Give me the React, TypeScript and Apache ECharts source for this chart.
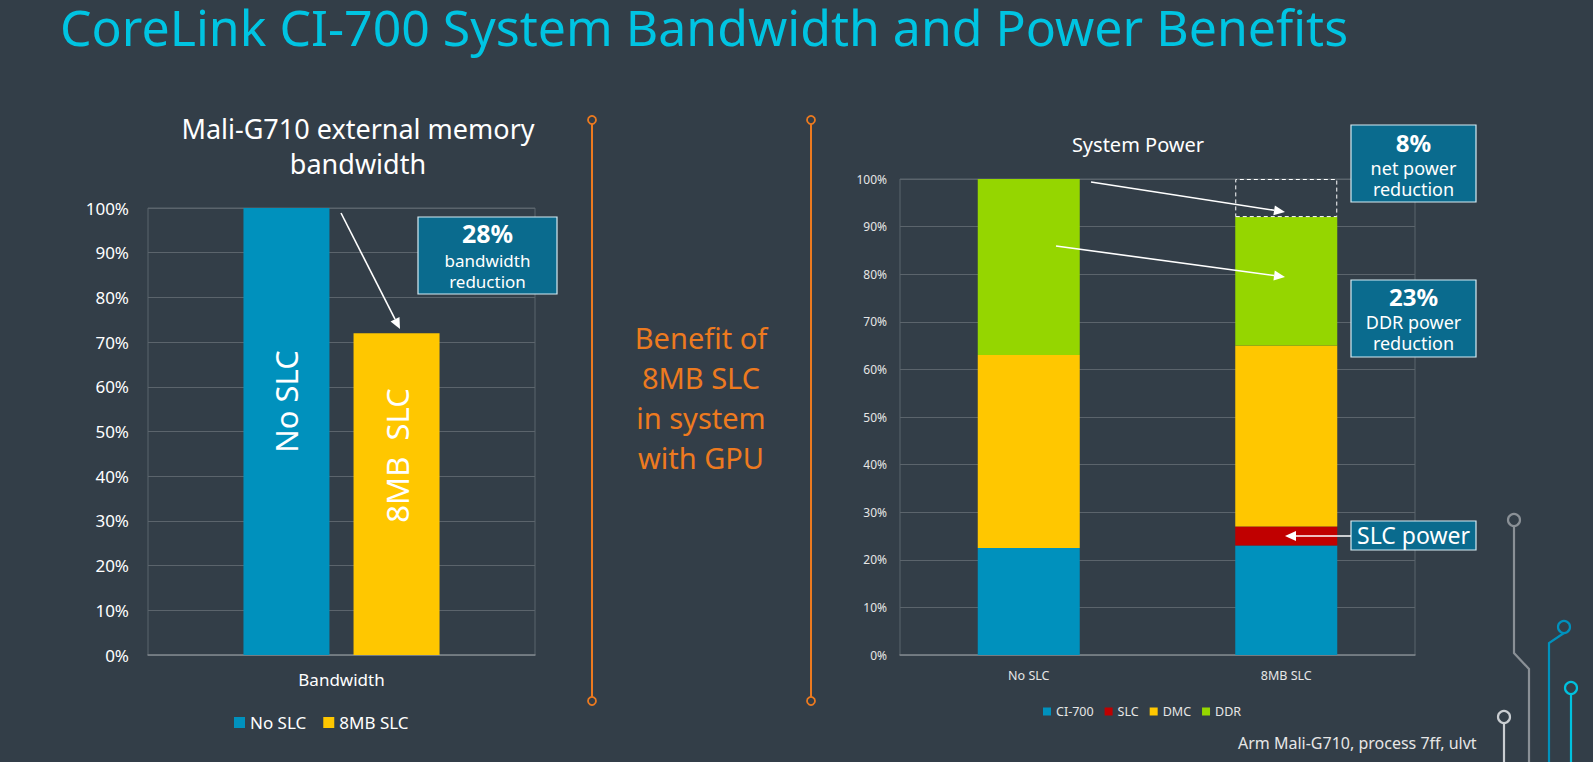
import React, { useEffect, useRef } from "react";
import * as echarts from "echarts";

// ---- data ----
const bwCategories = ["Bandwidth"];
const bwNoSlc = [100];
const bw8mbSlc = [72];
const bwTicks = [0, 100, 10];

const pwCategories = ["No SLC", "8MB SLC"];
const pwCi700 = [22.5, 23];
const pwSlc = [0, 4];
const pwDmc = [40.5, 38];
const pwDdr = [37, 27];
const pwNetReduction = ["-", 8];

const FONT = "Noto Sans";
const BG = "#333e48";
const BLUE = "#0091bd";
const YELLOW = "#ffc700";
const GREEN = "#95d600";
const RED = "#c00000";
const ORANGE = "#ed7a1f";
const CALLOUT = "#0a6b8e";
const CALLOUT_BORDER = "#d6ecf3";
const GRIDLINE = "#5b646c";
const TOP_Z = 50;

function arrow(x1: number, y1: number, x2: number, y2: number, color = "#ffffff") {
  const ang = Math.atan2(y2 - y1, x2 - x1);
  const len = 11;
  const w = 5;
  const bx = x2 - len * Math.cos(ang);
  const by = y2 - len * Math.sin(ang);
  const px = -Math.sin(ang) * w;
  const py = Math.cos(ang) * w;
  return [
    { type: "line", silent: true, z: TOP_Z, shape: { x1, y1, x2: bx, y2: by }, style: { stroke: color, lineWidth: 1.6 } },
    {
      type: "polygon",
      silent: true,
      z: TOP_Z,
      shape: { points: [[x2, y2], [bx + px, by + py], [bx - px, by - py]] },
      style: { fill: color },
    },
  ];
}

function callout(x: number, y: number, w: number, h: number, lines: { t: string; s: number; b?: boolean; y: number }[]) {
  const els: any[] = [
    {
      type: "rect",
      silent: true,
      z: TOP_Z,
      shape: { x, y, width: w, height: h },
      style: { fill: CALLOUT, stroke: CALLOUT_BORDER, lineWidth: 1.2 },
    },
  ];
  lines.forEach((l) => {
    els.push({
      type: "text",
      silent: true,
      z: TOP_Z + 1,
      x: x + w / 2,
      y: l.y,
      style: {
        text: l.t,
        fill: "#ffffff",
        font: `${l.b ? "bold " : ""}${l.s}px '${FONT}'`,
        align: "center",
        verticalAlign: "middle",
        lineHeight: Math.round(l.s * 1.05),
      },
    });
  });
  return els;
}

function orangeBar(x: number, y1: number, y2: number) {
  return [
    { type: "line", silent: true, shape: { x1: x, y1: y1 + 4, x2: x, y2: y2 - 4 }, style: { stroke: ORANGE, lineWidth: 2 } },
    { type: "circle", silent: true, shape: { cx: x, cy: y1, r: 4 }, style: { fill: BG, stroke: ORANGE, lineWidth: 1.8 } },
    { type: "circle", silent: true, shape: { cx: x, cy: y2, r: 4 }, style: { fill: BG, stroke: ORANGE, lineWidth: 1.8 } },
  ];
}

function circuit(points: number[][], color: string) {
  const [cx, cy] = points[0];
  return [
    { type: "polyline", silent: true, shape: { points: [[cx, cy + 6], ...points.slice(1)] }, style: { stroke: color, lineWidth: 2.2, fill: null } },
    { type: "circle", silent: true, shape: { cx, cy, r: 6 }, style: { fill: BG, stroke: color, lineWidth: 2.2 } },
  ];
}

export default function App() {
  const ref = useRef<HTMLDivElement>(null);
  useEffect(() => {
    if (!ref.current) return;
    const chart = echarts.init(ref.current, null, { renderer: "svg" });

    const graphic: any[] = [
      {
        type: "text",
        silent: true,
        x: 60,
        y: 27,
        style: {
          text: "CoreLink CI-700 System Bandwidth and Power Benefits",
          fill: "#00c4e2",
          font: `50px '${FONT}'`,
          verticalAlign: "middle",
          lineHeight: 44,
        },
      },
      {
        type: "text",
        silent: true,
        x: 358,
        y: 146,
        style: {
          text: "Mali-G710 external memory\nbandwidth",
          fill: "#ffffff",
          font: `27px '${FONT}'`,
          align: "center",
          verticalAlign: "middle",
          lineHeight: 35,
        },
      },
      {
        type: "text",
        silent: true,
        x: 1138,
        y: 144,
        style: { text: "System Power", fill: "#ffffff", font: `20px '${FONT}'`, align: "center", verticalAlign: "middle" },
      },
      {
        type: "text",
        silent: true,
        x: 701,
        y: 397,
        style: {
          text: "Benefit of\n8MB SLC\nin system\nwith GPU",
          fill: ORANGE,
          font: `29px '${FONT}'`,
          align: "center",
          verticalAlign: "middle",
          lineHeight: 40,
        },
      },
      ...orangeBar(592, 120, 701),
      ...orangeBar(811, 120, 701),
      ...callout(418, 217, 139, 77, [
        { t: "28%", s: 25, b: true, y: 233 },
        { t: "bandwidth", s: 17, y: 260 },
        { t: "reduction", s: 17, y: 281 },
      ]),
      ...arrow(341, 213, 400, 329),
      ...callout(1351, 125, 125, 77, [
        { t: "8%", s: 24, b: true, y: 142 },
        { t: "net power", s: 18, y: 168 },
        { t: "reduction", s: 18, y: 189 },
      ]),
      ...callout(1351, 280, 125, 77, [
        { t: "23%", s: 24, b: true, y: 296 },
        { t: "DDR power", s: 18, y: 322 },
        { t: "reduction", s: 18, y: 343 },
      ]),
      ...callout(1351, 521, 125, 29, [{ t: "SLC power", s: 23, y: 535 }]),
      ...arrow(1091, 182, 1285, 212),
      ...arrow(1056, 246, 1285, 277),
      ...arrow(1351, 536, 1285, 536),
      {
        type: "text",
        silent: true,
        x: 1238,
        y: 743,
        style: { text: "Arm Mali-G710, process 7ff, ulvt", fill: "#e6e6e6", font: `16px '${FONT}'`, verticalAlign: "middle" },
      },
      ...circuit([[1514, 520], [1514, 653], [1529, 669], [1529, 770]], "#8a9096"),
      ...circuit([[1564, 627], [1549, 643], [1549, 770]], BLUE),
      ...circuit([[1571, 688], [1571, 770]], "#00c1de"),
      ...circuit([[1504, 717], [1504, 770]], "#c9cdd1"),
    ];

    const barLabel = (pos: string[], text: string) => ({
      show: true,
      formatter: text,
      rotate: 90,
      position: pos,
      align: "center",
      verticalAlign: "middle",
      color: "#ffffff",
      fontSize: 31,
      fontFamily: FONT,
    });

    const option: any = {
      backgroundColor: BG,
      animation: false,
      textStyle: { fontFamily: FONT },
      grid: [
        { left: 148, top: 208, width: 387, height: 447, show: true, borderColor: GRIDLINE, borderWidth: 1 },
        { left: 900, top: 179, width: 515, height: 476, show: true, borderColor: GRIDLINE, borderWidth: 1 },
      ],
      xAxis: [
        {
          type: "category",
          gridIndex: 0,
          data: bwCategories,
          axisTick: { show: false },
          axisLine: { lineStyle: { color: "#7d848a", width: 1.5 } },
          axisLabel: { color: "#ffffff", fontSize: 17, margin: 16 },
        },
        {
          type: "category",
          gridIndex: 1,
          data: pwCategories,
          axisTick: { show: false },
          axisLine: { lineStyle: { color: "#7d848a", width: 1.5 } },
          axisLabel: { color: "#e6e6e6", fontSize: 12.5, margin: 14 },
        },
      ],
      yAxis: [
        {
          type: "value",
          gridIndex: 0,
          min: bwTicks[0],
          max: bwTicks[1],
          interval: bwTicks[2],
          axisLine: { show: false },
          axisTick: { show: false },
          axisLabel: { formatter: "{value}%", color: "#ffffff", fontSize: 17, margin: 19 },
          splitLine: { lineStyle: { color: GRIDLINE } },
        },
        {
          type: "value",
          gridIndex: 1,
          min: bwTicks[0],
          max: bwTicks[1],
          interval: bwTicks[2],
          axisLine: { show: false },
          axisTick: { show: false },
          axisLabel: { formatter: "{value}%", color: "#e6e6e6", fontSize: 12, margin: 13 },
          splitLine: { lineStyle: { color: GRIDLINE } },
        },
      ],
      legend: [
        {
          data: ["No SLC", "8MB SLC"],
          left: 229,
          top: 709,
          icon: "rect",
          itemWidth: 11,
          itemHeight: 11,
          itemGap: 17,
          textStyle: { color: "#ffffff", fontSize: 17 },
          selectedMode: false,
        },
        {
          data: ["CI-700", "SLC", "DMC", "DDR"],
          left: 1038,
          top: 700,
          icon: "rect",
          itemWidth: 8,
          itemHeight: 8,
          itemGap: 11,
          textStyle: { color: "#e6e6e6", fontSize: 12.5 },
          selectedMode: false,
        },
      ],
      series: [
        {
          name: "No SLC",
          type: "bar",
          xAxisIndex: 0,
          yAxisIndex: 0,
          data: bwNoSlc,
          barWidth: 86,
          barGap: "28%",
          itemStyle: { color: BLUE },
          label: barLabel(["50%", "43.3%"], "No SLC"),
        },
        {
          name: "8MB SLC",
          type: "bar",
          xAxisIndex: 0,
          yAxisIndex: 0,
          data: bw8mbSlc,
          barWidth: 86,
          barGap: "28%",
          itemStyle: { color: YELLOW },
          label: barLabel(["50%", "38%"], "8MB  SLC"),
        },
        { name: "CI-700", type: "bar", stack: "p", xAxisIndex: 1, yAxisIndex: 1, data: pwCi700, barWidth: 102, itemStyle: { color: BLUE } },
        { name: "SLC", type: "bar", stack: "p", xAxisIndex: 1, yAxisIndex: 1, data: pwSlc, barWidth: 102, itemStyle: { color: RED } },
        { name: "DMC", type: "bar", stack: "p", xAxisIndex: 1, yAxisIndex: 1, data: pwDmc, barWidth: 102, itemStyle: { color: YELLOW } },
        { name: "DDR", type: "bar", stack: "p", xAxisIndex: 1, yAxisIndex: 1, data: pwDdr, barWidth: 102, itemStyle: { color: GREEN } },
        {
          name: "Net reduction",
          type: "bar",
          stack: "p",
          xAxisIndex: 1,
          yAxisIndex: 1,
          data: pwNetReduction,
          barWidth: 102,
          itemStyle: { color: "rgba(0,0,0,0)", borderColor: "#ffffff", borderWidth: 1, borderType: [4, 3] },
        },
      ],
      graphic,
    };

    chart.setOption(option);
    return () => chart.dispose();
  }, []);

  return <div ref={ref} style={{ position: "fixed", left: 0, top: 0, width: 1593, height: 762 }} />;
}
